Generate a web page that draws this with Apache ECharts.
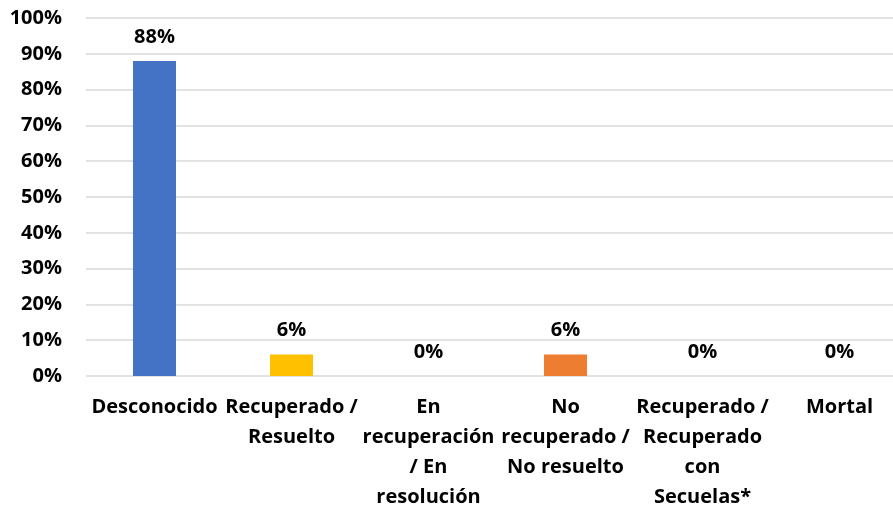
<!DOCTYPE html>
<html>
<head>
<meta charset="utf-8">
<script src="https://cdn.jsdelivr.net/npm/echarts@6/dist/echarts.min.js"></script>
<style>
  html, body { margin: 0; padding: 0; background: #fff; }
  #chart { width: 893px; height: 506px; }
</style>
</head>
<body>
<div id="chart"></div>
<script>
const categories = [
  'Desconocido',
  'Recuperado /\nResuelto',
  'En\nrecuperación\n/ En\nresolución',
  'No\nrecuperado /\nNo resuelto',
  'Recuperado /\nRecuperado\ncon\nSecuelas*',
  'Mortal'
]
const values = [0.88, 0.06, 0, 0.06, 0, 0]
const barColors = ['#4472C4', '#FFC000', '#4472C4', '#ED7D31', '#4472C4', '#4472C4']
const yTicks = [0, 0.1, 0.2, 0.3, 0.4, 0.5, 0.6, 0.7, 0.8, 0.9, 1]

const font = '"Open Sans", Lato, sans-serif'
const chart = echarts.init(document.getElementById('chart'))

const option = {
  animation: false,
  grid: {
    left: 86,
    right: -15,
    top: 18,
    bottom: 130,
    outerBoundsMode: 'none'
  },
  xAxis: {
    type: 'category',
    data: categories,
    axisLine: { show: false },
    axisTick: { show: false },
    axisLabel: {
      interval: 0,
      color: '#000',
      fontFamily: font,
      fontWeight: 'bold',
      fontSize: 20,
      lineHeight: 30,
      margin: 16,
      verticalAlign: 'top'
    }
  },
  yAxis: {
    type: 'value',
    min: yTicks[0],
    max: yTicks[yTicks.length - 1],
    interval: 0.1,
    axisLine: { show: false },
    axisTick: { show: false },
    axisLabel: {
      color: '#000',
      fontFamily: font,
      fontWeight: 'bold',
      fontSize: 20,
      margin: 24,
      formatter: v => Math.round(v * 100) + '%'
    },
    splitLine: {
      lineStyle: { color: '#d9d9d9', width: 1.5 }
    }
  },
  series: [
    {
      type: 'bar',
      barWidth: 43,
      data: values.map((v, i) => ({
        value: v,
        itemStyle: { color: barColors[i] }
      })),
      label: {
        show: true,
        position: 'top',
        distance: 14,
        color: '#000',
        fontFamily: font,
        fontWeight: 'bold',
        fontSize: 20,
        formatter: p => Math.round(p.value * 100) + '%'
      }
    }
  ]
}

chart.setOption(option)
</script>
</body>
</html>
